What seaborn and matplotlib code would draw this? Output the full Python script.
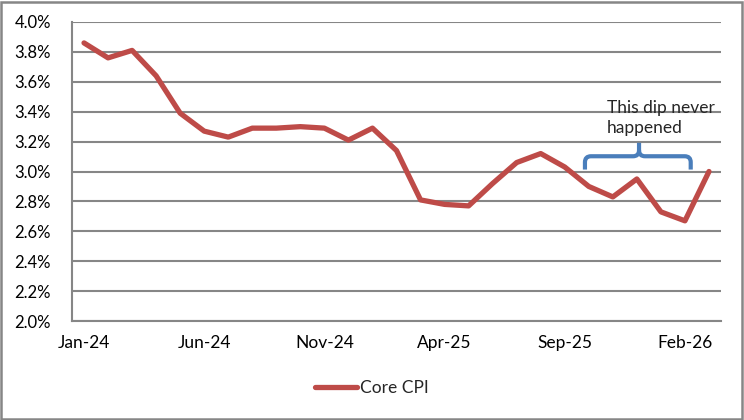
import pandas as pd
import matplotlib.pyplot as plt
import seaborn as sns
from matplotlib.path import Path
from matplotlib.patches import PathPatch, Rectangle
from matplotlib.ticker import FixedLocator, FuncFormatter

# Core CPI, monthly Jan-24 .. Mar-26
months = ["Jan-24", "Feb-24", "Mar-24", "Apr-24", "May-24", "Jun-24", "Jul-24",
          "Aug-24", "Sep-24", "Oct-24", "Nov-24", "Dec-24", "Jan-25", "Feb-25",
          "Mar-25", "Apr-25", "May-25", "Jun-25", "Jul-25", "Aug-25", "Sep-25",
          "Oct-25", "Nov-25", "Dec-25", "Jan-26", "Feb-26", "Mar-26"]
core_cpi = [3.86, 3.76, 3.81, 3.64, 3.39, 3.27, 3.23, 3.29, 3.29, 3.30, 3.29,
            3.21, 3.29, 3.14, 2.81, 2.78, 2.77, 2.92, 3.06, 3.12, 3.03, 2.90,
            2.83, 2.95, 2.73, 2.67, 3.00]
label_every = 5
y_ticks = [2.0, 2.2, 2.4, 2.6, 2.8, 3.0, 3.2, 3.4, 3.6, 3.8, 4.0]

df = pd.DataFrame({"pos": range(len(months)), "month": months, "Core CPI": core_cpi})

sns.set_style("white")
plt.rcParams['font.family'] = ['Lato', 'DejaVu Sans']

grey = "#868686"
red = "#BE4B48"
blue = "#4A7EBB"

fig = plt.figure(figsize=(7.44, 4.2), dpi=100)
ax = fig.add_axes([72 / 744, 99 / 420, 649 / 744, 299 / 420])

sns.lineplot(data=df, x="pos", y="Core CPI", ax=ax, color=red, linewidth=3.8,
             label="Core CPI", legend=False)

ax.set_xlim(-0.5, len(months) - 0.5)
ax.set_ylim(y_ticks[0], y_ticks[-1])
ax.set_yticks(y_ticks)
ax.yaxis.set_major_formatter(FuncFormatter(lambda v, p: "%.1f%%" % v))
ax.yaxis.grid(True, color=grey, linewidth=1.5)
ax.set_axisbelow(True)

# ticks sit between categories, labels sit on categories
lab_pos = list(range(0, len(months), label_every))
ax.xaxis.set_major_locator(FixedLocator([p - 0.5 for p in lab_pos]))
ax.xaxis.set_major_formatter(FuncFormatter(lambda v, p: ""))
ax.xaxis.set_minor_locator(FixedLocator(lab_pos))
ax.xaxis.set_minor_formatter(FuncFormatter(lambda v, p: months[int(round(v))]))
ax.tick_params(axis="x", which="major", length=5, width=1.5, color=grey, direction="out")
ax.tick_params(axis="x", which="minor", length=0, pad=10, labelsize=12.5, labelcolor="black")
ax.tick_params(axis="y", length=5, width=1.5, color=grey, direction="out", pad=10,
               labelsize=12, labelcolor="black")
ax.set_xlabel("")
ax.set_ylabel("")

for s in ["top", "right"]:
    ax.spines[s].set_visible(False)
for s in ["left", "bottom"]:
    ax.spines[s].set_color(grey)
    ax.spines[s].set_linewidth(1.5)

# blue brace annotation
xl, xm, xr = 20.84, 23.09, 25.24
yb, yt, yp = 3.013, 3.102, 3.192
rx, ry = 0.25, 0.04
verts = [(xl, yb), (xl, yt - ry), (xl, yt), (xl + rx, yt), (xm - rx, yt), (xm, yt), (xm, yt + ry),
         (xm, yp), (xm, yt + ry), (xm, yt), (xm + rx, yt), (xr - rx, yt), (xr, yt), (xr, yt - ry),
         (xr, yb)]
codes = [Path.MOVETO, Path.LINETO, Path.CURVE3, Path.CURVE3, Path.LINETO, Path.CURVE3, Path.CURVE3,
         Path.LINETO, Path.MOVETO, Path.CURVE3, Path.CURVE3, Path.LINETO, Path.CURVE3, Path.CURVE3,
         Path.LINETO]
ax.add_patch(PathPatch(Path(verts, codes), facecolor="none", edgecolor=blue, linewidth=3,
                       capstyle="butt", joinstyle="round", zorder=4))
ax.text(21.74, 3.355, "This dip never\nhappened", ha="left", va="center", fontsize=12.5,
        linespacing=1.3, zorder=5)

fig.legend(loc="center", bbox_to_anchor=(0.5, 32 / 420), frameon=False, fontsize=12.5,
           handlelength=2.4, handletextpad=0.2)

fig.patches.append(Rectangle((0.002, 0.003), 0.995, 0.993, transform=fig.transFigure,
                             fill=False, edgecolor=grey, linewidth=1.8))

fig.savefig("out.png", dpi=100)
